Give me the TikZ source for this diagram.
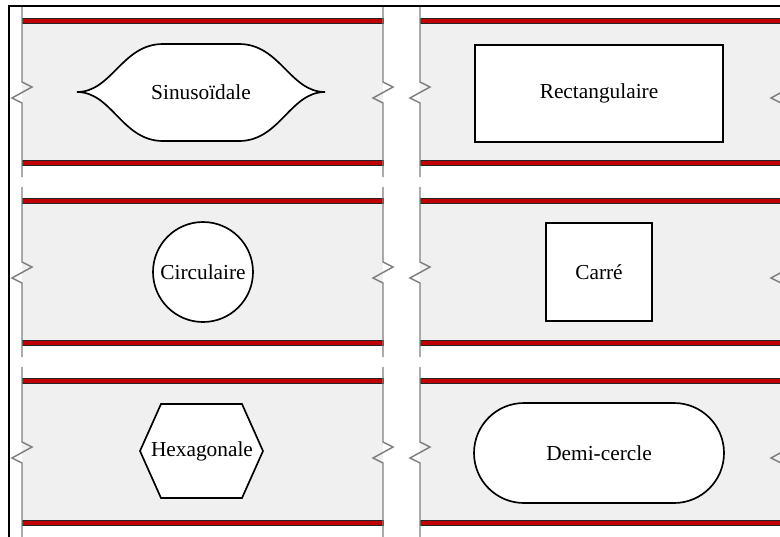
\documentclass[tikz,border=0pt]{standalone}
\usepackage{fontspec}
\setmainfont{Liberation Serif}
\usepackage{tikz}
\definecolor{rouge}{HTML}{C00000}
\definecolor{fondgris}{HTML}{F0F0F0}
\definecolor{trait}{HTML}{7F7F7F}
\definecolor{bord}{HTML}{262626}
\tikzset{
  fond/.style={fill=fondgris},
  bande/.style={draw=bord,fill=rouge,line width=0.75pt},
  montant/.style={draw=trait,line width=1.1pt},
  cadre/.style={draw=black,line width=1.5pt},
  texte/.style={font=\fontsize{16}{19}\selectfont,inner sep=0pt},
  forme/.style={texte,draw=black,fill=white,line width=1.25pt,align=center},
}
% montant vertical avec sa brisure : x, centre y
\newcommand{\montant}[2]{%
  \draw[montant] (#1,#2-85) -- (#1,#2-10) -- (#1+10,#2-5) -- (#1-10,#2+6) -- (#1,#2+11) -- (#1,#2+85);}
% panneau : gauche, droite, centre y
\newcommand{\panneau}[3]{%
  \fill[fond] (#1,#3-68) rectangle (#2,#3+68);
  \draw[bande] (#1,#3-73.5) rectangle (#2,#3-68.5);
  \draw[bande] (#1,#3+68.5) rectangle (#2,#3+73.5);
  \montant{#1}{#3}\montant{#2}{#3}}

\begin{document}
\begin{tikzpicture}[x=0.75pt,y=-0.75pt]
  \useasboundingbox (0,0) rectangle (780,536);
  % panneaux
  \panneau{22}{383}{92}
  \panneau{420}{781}{92}
  \panneau{22}{383}{272}
  \panneau{420}{781}{272}
  \panneau{22}{383}{452}
  \panneau{420}{781}{452}
  % cadre
  \draw[cadre] (9,537) -- (9,6) -- (781,6);
  % formes
  \draw[forme] (77,92) .. controls (112,92) and (122,44) .. (163,44) -- (239,44)
    .. controls (280,44) and (290,92) .. (325,92)
    .. controls (290,92) and (280,141) .. (239,141) -- (163,141)
    .. controls (122,141) and (112,92) .. (77,92) -- cycle;
  \node[texte] (sinus) at (201,92) {Sinusoïdale};
  \node[forme,minimum width=186pt,minimum height=73pt] (rect) at (599,93.5) {Rectangulaire};
  \node[forme,circle,minimum size=75pt] (cercle) at (203,272) {Circulaire};
  \node[forme,minimum width=79.5pt,minimum height=73.5pt] (carre) at (599,272) {Carré};
  \draw[forme] (140,451) -- (161,404) -- (242,404) -- (263,451) -- (242,498) -- (161,498) -- cycle;
  \node[texte] (hexa) at (202,451) {Hexagonale};
  \node[forme,minimum width=187.5pt,minimum height=75pt,rounded corners=37.5pt] (demi) at (599,453) {Demi-cercle};
\end{tikzpicture}
\end{document}
